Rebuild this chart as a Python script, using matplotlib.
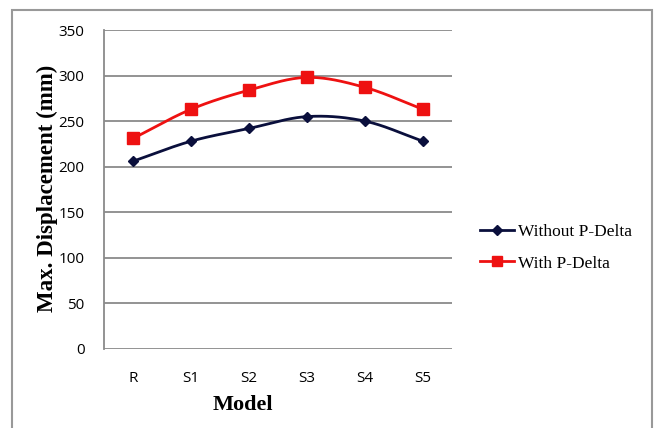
import numpy as np
import matplotlib.pyplot as plt
from matplotlib.patches import Rectangle

models = ['R', 'S1', 'S2', 'S3', 'S4', 'S5']
without_pdelta = [206, 228, 242, 255, 250, 228]
with_pdelta = [231, 263, 284, 298, 287, 263]


def smooth(y, n=30):
    # Catmull-Rom style smoothing like the spreadsheet "smoothed line"
    y = np.asarray(y, dtype=float)
    x = np.arange(len(y), dtype=float)
    p = np.concatenate([[2*y[0] - y[1]], y, [2*y[-1] - y[-2]]])
    xs, ys = [], []
    for i in range(len(y) - 1):
        t = np.linspace(0, 1, n)
        p0, p1, p2, p3 = p[i], p[i+1], p[i+2], p[i+3]
        yy = 0.5*((2*p1) + (-p0 + p2)*t + (2*p0 - 5*p1 + 4*p2 - p3)*t**2
                  + (-p0 + 3*p1 - 3*p2 + p3)*t**3)
        xs.append(x[i] + t)
        ys.append(yy)
    return np.concatenate(xs), np.concatenate(ys)


fig = plt.figure(figsize=(6.58, 4.28), dpi=100)
ax = fig.add_axes([104/658, 1 - 349/428, 348/658, 319/428])

x = np.arange(len(models))
navy = '#0a0f3c'
red = '#ee1111'

sx, sy = smooth(without_pdelta)
ax.plot(sx, sy, color=navy, lw=2)
ax.plot(x, without_pdelta, ls='none', marker='D', ms=5.5, color=navy)
sx, sy = smooth(with_pdelta)
ax.plot(sx, sy, color=red, lw=2)
ax.plot(x, with_pdelta, ls='none', marker='s', ms=8, color=red)

# legend handles
ax.plot([], [], color=navy, lw=2, marker='D', ms=5, label='Without P-Delta')
ax.plot([], [], color=red, lw=2, marker='s', ms=7, label='With P-Delta')
handles, labels = ax.get_legend_handles_labels()
fig.legend(handles, labels, loc='upper left', bbox_to_anchor=(464/658, 1 - 208/428),
           frameon=False, prop={'family': 'Liberation Serif', 'size': 12.5},
           handlelength=2.0, handletextpad=0.2, labelspacing=0.9)

ax.set_xlim(-0.5, 5.5)
ax.set_ylim(0, 350)
ax.set_yticks(range(0, 351, 50))
ax.set_xticks(x)
ax.set_xticklabels(models)
ax.grid(axis='y', color='#8a8a8a', lw=1.3)
ax.set_axisbelow(True)
for s in ['top', 'right', 'bottom']:
    ax.spines[s].set_visible(False)
ax.spines['left'].set_color('#8a8a8a')
ax.spines['left'].set_linewidth(1.3)
ax.tick_params(length=0, labelsize=11)
ax.tick_params(axis='y', pad=14)
ax.tick_params(axis='x', pad=16)
for lab in ax.get_xticklabels() + ax.get_yticklabels():
    lab.set_family('Open Sans')

fig.text(243/658, 1 - 405/428, 'Model', family='Liberation Serif', fontweight='bold',
         fontsize=16, ha='center', va='center')
fig.text(47/658, 1 - 188/428, 'Max. Displacement (mm)', family='Liberation Serif',
         fontweight='bold', fontsize=16.5, rotation=90, ha='center', va='center')

fig.patches.append(Rectangle((12/658, -0.05), 640/658, 1.05 - 10/428,
                             transform=fig.transFigure, fill=False,
                             edgecolor='#999999', lw=1.5))

fig.savefig('out.png', dpi=100)
